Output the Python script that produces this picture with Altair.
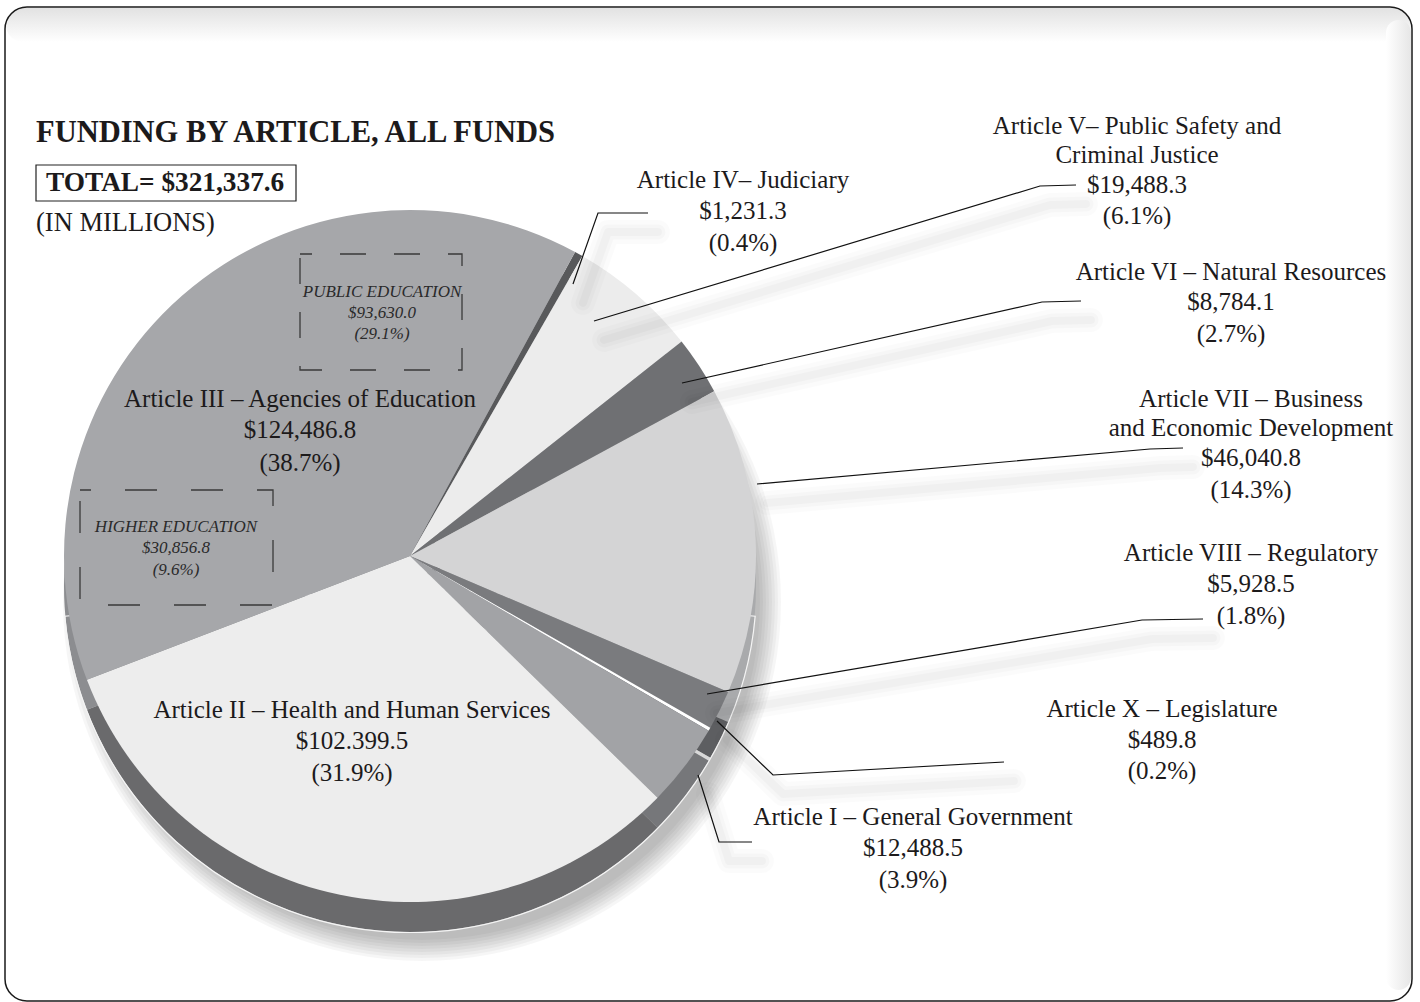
import math
import altair as alt
import pandas as pd

# ---------------- data ----------------
keys = ["IV", "V", "VI", "VII", "VIII", "X", "I", "II", "III"]
name_lines = [
    ["Article IV– Judiciary"],
    ["Article V– Public Safety and", "Criminal Justice"],
    ["Article VI – Natural Resources"],
    ["Article VII – Business", "and Economic Development"],
    ["Article VIII – Regulatory"],
    ["Article X – Legislature"],
    ["Article I – General Government"],
    ["Article II – Health and Human Services"],
    ["Article III – Agencies of Education"],
]
amounts = [1231.3, 19488.3, 8784.1, 46040.8, 5928.5, 489.8, 12488.5, 102399.5, 124486.8]
amount_labels = ["$1,231.3", "$19,488.3", "$8,784.1", "$46,040.8", "$5,928.5",
                 "$489.8", "$12,488.5", "$102.399.5", "$124,486.8"]
pcts = ["(0.4%)", "(6.1%)", "(2.7%)", "(14.3%)", "(1.8%)", "(0.2%)", "(3.9%)", "(31.9%)", "(38.7%)"]

sub_names = ["PUBLIC EDUCATION", "HIGHER EDUCATION"]
sub_amounts = ["$93,630.0", "$30,856.8"]
sub_pcts = ["(29.1%)", "(9.6%)"]

title = "FUNDING BY ARTICLE, ALL FUNDS"
total_text = "TOTAL= $321,337.6"
unit_text = "(IN MILLIONS)"

# ---------------- styles / layout ----------------
top_colors = ["#58595b", "#ececec", "#6f7073", "#d4d4d5", "#7a7b7e", "#ffffff", "#a2a3a6", "#ededed", "#a6a7aa"]
side_colors = ["#3e3f41", "#b4b4b6", "#55565a", "#a9aaac", "#5d5e61", "#d8d8d8", "#76777a", "#6a6a6c", "#8c8d90"]

CX, CY, R, DEPTH = 410, 556, 346, 30
START = math.radians(28.5)

label_x = [743, 1137, 1231, 1251, 1251, 1162, 913, 352, 300]
label_ys = [
    [180, 211, 243],
    [126, 155, 185, 216],
    [272, 302, 334],
    [399, 428, 458, 490],
    [553, 584, 616],
    [709, 740, 771],
    [817, 848, 880],
    [710, 741, 773],
    [399, 430, 463],
]
sub_x = [382, 176]
sub_ys = [[292, 313, 334], [527, 548, 570]]
sub_boxes = [(300, 462, 254, 370, [26, 28], 14), (80, 273, 490, 605, [32, 34], 21)]

leaders = {
    "IV": [(573, 284), (598, 213), (648, 213)],
    "V": [(594, 321), (1040, 186), (1076, 185)],
    "VI": [(682, 383), (1042, 302), (1081, 301)],
    "VII": [(757, 484), (1150, 449), (1183, 448)],
    "VIII": [(707, 694), (1142, 620), (1203, 619)],
    "X": [(717, 721), (773, 775), (1004, 762)],
    "I": [(698, 775), (719, 842), (752, 842)],
}

FONT = "Liberation Serif"
INK = "#1c1a1b"

xs = alt.Scale(domain=[0, 1420], nice=False, zero=False)
ys = alt.Scale(domain=[0, 1002], nice=False, zero=False, reverse=True)

one = alt.Data(values=[{"a": 1}])

# ---------------- frame decorations ----------------
top_band = alt.Chart(one).mark_rect(
    cornerRadius=20,
    color=alt.Gradient(gradient="linear", x1=0, x2=0, y1=0, y2=1,
                       stops=[alt.GradientStop(color="#e2e2e2", offset=0),
                              alt.GradientStop(color="#ffffff", offset=1)]),
).encode(x=alt.value(6), x2=alt.value(1411), y=alt.value(8), y2=alt.value(42))

right_band = alt.Chart(one).mark_rect(
    cornerRadius=20,
    color=alt.Gradient(gradient="linear", x1=0, x2=1, y1=0, y2=0,
                       stops=[alt.GradientStop(color="#ffffff", offset=0),
                              alt.GradientStop(color="#e6e6e6", offset=1)]),
).encode(x=alt.value(1386), x2=alt.value(1411), y=alt.value(20), y2=alt.value(990))

frame = alt.Chart(one).mark_rect(
    filled=False, cornerRadius=22, stroke="#1a1a1a", strokeWidth=1.5
).encode(x=alt.value(5), x2=alt.value(1412), y=alt.value(7), y2=alt.value(1001))

# ---------------- pie ----------------
pie_df = pd.DataFrame({"key": keys, "amount": amounts, "idx": list(range(len(keys)))})
theta = alt.Theta("amount:Q", stack=True, scale=alt.Scale(range=[START, START + 2 * math.pi]))

shadows = []
for k in range(8):
    shadows.append(
        alt.Chart(one).mark_arc(theta=0, theta2=2 * math.pi, radius=R - 8 + 3 * k,
                                color="#000000", opacity=0.035)
        .encode(x=alt.value(CX + 12), y=alt.value(CY + DEPTH + 16))
    )

side = alt.Chart(pie_df).mark_arc(radius=R).encode(
    theta=theta,
    color=alt.Color("key:N", scale=alt.Scale(domain=keys, range=side_colors), legend=None),
    order=alt.Order("idx:Q"),
    x=alt.value(CX), y=alt.value(CY + DEPTH),
)
rim = alt.Chart(one).mark_arc(theta=math.radians(95), theta2=math.radians(265), radius=R + 0.5,
                              filled=False, stroke="#f4f4f4", strokeWidth=1.2).encode(
    x=alt.value(CX), y=alt.value(CY + DEPTH))

top = alt.Chart(pie_df).mark_arc(radius=R).encode(
    theta=theta,
    color=alt.Color("key:N", scale=alt.Scale(domain=keys, range=top_colors), legend=None),
    order=alt.Order("idx:Q"),
    x=alt.value(CX), y=alt.value(CY),
)

# ---------------- boxes ----------------
total_box = alt.Chart(one).mark_rect(filled=False, stroke="#222222", strokeWidth=1.2).encode(
    x=alt.value(36), x2=alt.value(296), y=alt.value(165), y2=alt.value(201))

dash_boxes = []
for (x0, x1, y0, y1, dash, off) in sub_boxes:
    dash_boxes.append(
        alt.Chart(one).mark_rect(filled=False, stroke="#3a3a3a", strokeWidth=1.3,
                                 strokeDash=dash, strokeDashOffset=off)
        .encode(x=alt.value(x0), x2=alt.value(x1), y=alt.value(y0), y2=alt.value(y1))
    )

# ---------------- leader lines ----------------
rows = []
for k, pts in leaders.items():
    for i, (px, py) in enumerate(pts):
        rows.append({"id": k, "o": i, "x": px, "y": py, "sx": px + 10, "sy": py + 19})
lead_df = pd.DataFrame(rows)

lead_shadows = []
for w, op in [(24, 0.016), (15, 0.02), (8, 0.022)]:
    lead_shadows.append(
        alt.Chart(lead_df).mark_line(color="#000000", opacity=op, strokeWidth=w,
                                     strokeCap="round", strokeJoin="round").encode(
            x=alt.X("sx:Q", scale=xs, axis=None), y=alt.Y("sy:Q", scale=ys, axis=None),
            detail="id:N", order="o:Q")
    )
lead = alt.Chart(lead_df).mark_line(color="#111111", strokeWidth=1.2).encode(
    x=alt.X("x:Q", scale=xs, axis=None), y=alt.Y("y:Q", scale=ys, axis=None),
    detail="id:N", order="o:Q")

# ---------------- text ----------------
trows = []
for i in range(len(keys)):
    lines = name_lines[i] + [amount_labels[i], pcts[i]]
    for t, yy in zip(lines, label_ys[i]):
        trows.append({"t": t, "x": label_x[i], "y": yy})
text_df = pd.DataFrame(trows)
labels = alt.Chart(text_df).mark_text(font=FONT, fontSize=25, color=INK, align="center",
                                      baseline="middle").encode(
    x=alt.X("x:Q", scale=xs, axis=None), y=alt.Y("y:Q", scale=ys, axis=None), text="t:N")

srows = []
for i in range(2):
    for t, yy in zip([sub_names[i], sub_amounts[i], sub_pcts[i]], sub_ys[i]):
        srows.append({"t": t, "x": sub_x[i], "y": yy})
sub_df = pd.DataFrame(srows)
sublabels = alt.Chart(sub_df).mark_text(font=FONT, fontSize=17, fontStyle="italic", color="#2a2a2a",
                                        align="center", baseline="middle").encode(
    x=alt.X("x:Q", scale=xs, axis=None), y=alt.Y("y:Q", scale=ys, axis=None), text="t:N")

title_df = pd.DataFrame([{"t": title, "x": 36, "y": 142}])
total_df = pd.DataFrame([{"t": total_text, "x": 46, "y": 191}])
unit_df = pd.DataFrame([{"t": unit_text, "x": 36, "y": 231}])

head_title = alt.Chart(title_df).mark_text(
    font=FONT, fontSize=30.5, fontWeight="bold", color=INK, align="left", baseline="alphabetic").encode(
    x=alt.X("x:Q", scale=xs, axis=None), y=alt.Y("y:Q", scale=ys, axis=None), text="t:N")
head_total = alt.Chart(total_df).mark_text(
    font=FONT, fontSize=27.3, fontWeight="bold", color=INK, align="left", baseline="alphabetic").encode(
    x=alt.X("x:Q", scale=xs, axis=None), y=alt.Y("y:Q", scale=ys, axis=None), text="t:N")
head_norm = alt.Chart(unit_df).mark_text(
    font=FONT, fontSize=26.5, color=INK, align="left", baseline="alphabetic").encode(
    x=alt.X("x:Q", scale=xs, axis=None), y=alt.Y("y:Q", scale=ys, axis=None), text="t:N")

chart = alt.layer(
    top_band, right_band, *shadows, side, rim, top, total_box, *dash_boxes,
    *lead_shadows, lead, labels, sublabels, head_title, head_total, head_norm, frame,
).resolve_scale(color="independent").properties(
    width=1420, height=1002,
    autosize=alt.AutoSizeParams(type="none"),
    padding=0,
    background="#ffffff",
).configure_view(stroke=None)

chart.save("out.html", embed_options={"renderer": "svg", "actions": False})
